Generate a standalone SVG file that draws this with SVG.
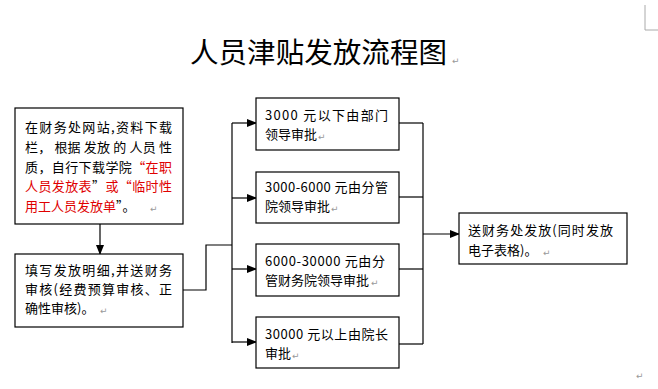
<svg xmlns="http://www.w3.org/2000/svg" width="658" height="389" viewBox="0 0 658 389">
<defs>
<style>
.bx{fill:#fff;stroke:#000;stroke-width:1.2}
.ln{fill:none;stroke:#000;stroke-width:1.2}
.t{font-family:"Noto Sans CJK SC","Noto Sans",sans-serif;font-size:13px;fill:#000}
.r{fill:#e00000}
.pm{font-family:"DejaVu Sans",sans-serif;font-size:9px;fill:#999}
</style>
<marker id="ah" markerWidth="10" markerHeight="8" refX="9" refY="4" orient="auto" markerUnits="userSpaceOnUse">
<path d="M0,0 L10,4 L0,8 Z" fill="#000"/>
</marker>
</defs>
<rect width="658" height="389" fill="#fff"/>
<path d="M645,5 V30 H658" fill="none" stroke="#aaa" stroke-width="1"/>
<text x="190" y="63" textLength="257" lengthAdjust="spacingAndGlyphs" style="font-family:'Noto Sans CJK SC',sans-serif;font-size:28px;fill:#000">人员津贴发放流程图</text>
<text class="pm" x="452" y="64">↵</text>

<g id="connectors">
<line class="ln" x1="100" y1="224" x2="100" y2="254" marker-end="url(#ah)"/>
<polyline class="ln" points="183,290 206,290 206,245 232,245"/>
<line class="ln" x1="232" y1="123" x2="232" y2="343"/>
<line class="ln" x1="232" y1="123" x2="256" y2="123" marker-end="url(#ah)"/>
<line class="ln" x1="232" y1="198" x2="256" y2="198" marker-end="url(#ah)"/>
<line class="ln" x1="232" y1="269" x2="256" y2="269" marker-end="url(#ah)"/>
<line class="ln" x1="232" y1="342" x2="256" y2="342" marker-end="url(#ah)"/>
<line class="ln" x1="399" y1="123" x2="423" y2="123"/>
<line class="ln" x1="399" y1="197" x2="423" y2="197"/>
<line class="ln" x1="399" y1="269" x2="423" y2="269"/>
<line class="ln" x1="399" y1="344" x2="423" y2="344"/>
<line class="ln" x1="423" y1="123" x2="423" y2="344"/>
<line class="ln" x1="423" y1="234" x2="459" y2="234" marker-end="url(#ah)"/>
</g>

<g id="n1">
<rect class="bx" x="15" y="108" width="168" height="116"/>
<text class="t" x="25" y="132" textLength="147" lengthAdjust="spacing">在财务处网站,资料下载</text>
<text class="t" x="25" y="152" textLength="147" lengthAdjust="spacing">栏， 根据 发放 的 人员 性</text>
<text class="t" x="25" y="172" textLength="147" lengthAdjust="spacing">质，自行下载学院<tspan class="r">“在职</tspan></text>
<text class="t" x="25" y="191" textLength="147" lengthAdjust="spacing"><tspan class="r">人员发放表</tspan>”<tspan class="r">或“临时性</tspan></text>
<text class="t" x="25" y="211"><tspan class="r">用工人员发放单</tspan>”。</text>
<text class="pm" x="150" y="212">↵</text>
</g>

<g id="n2">
<rect class="bx" x="15" y="254" width="168" height="73"/>
<text class="t" x="25" y="275" textLength="147" lengthAdjust="spacing">填写发放明细,并送财务</text>
<text class="t" x="25" y="294" textLength="147" lengthAdjust="spacing">审核(经费预算审核、正</text>
<text class="t" x="25" y="313">确性审核)。</text>
<text class="pm" x="100" y="314">↵</text>
</g>

<g id="n3">
<rect class="bx" x="256" y="98" width="143" height="52"/>
<text class="t" x="265" y="120" textLength="123" lengthAdjust="spacing">3000 元以下由部门</text>
<text class="t" x="265" y="139">领导审批</text>
<text class="pm" x="318" y="140">↵</text>
</g>

<g id="n4">
<rect class="bx" x="256" y="172" width="143" height="51"/>
<text class="t" x="265" y="192" textLength="123" lengthAdjust="spacing">3000-6000 元由分管</text>
<text class="t" x="265" y="211">院领导审批</text>
<text class="pm" x="331" y="212">↵</text>
</g>

<g id="n5">
<rect class="bx" x="256" y="244" width="143" height="52"/>
<text class="t" x="265" y="266" textLength="120" lengthAdjust="spacing">6000-30000 元由分</text>
<text class="t" x="265" y="285">管财务院领导审批</text>
<text class="pm" x="371" y="286">↵</text>
</g>

<g id="n6">
<rect class="bx" x="256" y="317" width="143" height="51"/>
<text class="t" x="265" y="339" textLength="123" lengthAdjust="spacing">30000 元以上由院长</text>
<text class="t" x="265" y="358">审批</text>
<text class="pm" x="292" y="359">↵</text>
</g>

<g id="n7">
<rect class="bx" x="459" y="213" width="168" height="51"/>
<text class="t" x="468" y="235" textLength="145" lengthAdjust="spacing">送财务处发放(同时发放</text>
<text class="t" x="468" y="255">电子表格)。</text>
<text class="pm" x="543" y="256">↵</text>
</g>
<text class="pm" x="636" y="379">↵</text>
</svg>
